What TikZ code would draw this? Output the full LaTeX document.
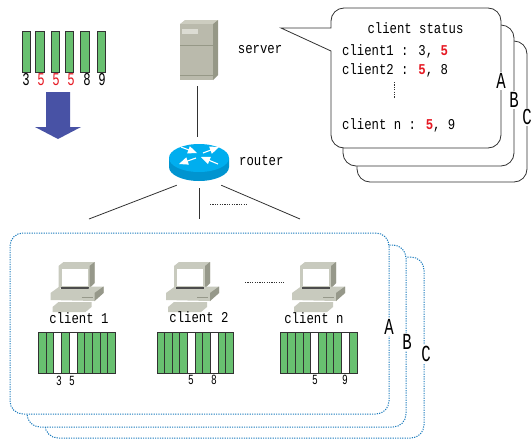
\documentclass[tikz,border=0pt]{standalone}
\usepackage{fontspec}
\setmainfont[FakeStretch=0.82]{Liberation Mono}
\newfontfamily\narrowfont[FakeStretch=0.68]{Liberation Mono}
\usetikzlibrary{arrows,positioning}
\definecolor{pktgreen}{RGB}{104,192,112}
\definecolor{arrowblue}{RGB}{72,82,165}
\definecolor{dotblue}{RGB}{30,125,190}
\definecolor{linegray}{RGB}{50,50,50}
\definecolor{srvfront}{RGB}{186,186,172}
\definecolor{srvtop}{RGB}{205,205,192}
\definecolor{srvside}{RGB}{150,152,135}
\definecolor{rtrtop}{RGB}{0,174,239}
\definecolor{rtrside}{RGB}{0,148,208}
\definecolor{pcbody}{RGB}{200,202,190}
\definecolor{pcdark}{RGB}{150,152,138}
\definecolor{alert}{RGB}{230,25,35}
\tikzstyle{txt} = [inner sep=0pt, font=\fontsize{15}{17}\selectfont]
\tikzstyle{digit} = [inner sep=0pt, font=\narrowfont\fontsize{14}{16}\selectfont]
\tikzstyle{bigdigit} = [inner sep=0pt, font=\narrowfont\fontsize{18}{20}\selectfont]
\tikzstyle{letter} = [fill=white, inner sep=1pt, font=\narrowfont\fontsize{23}{25}\selectfont]
\tikzstyle{pkt} = [draw=linegray, fill=pktgreen, line width=0.9pt, inner sep=0pt, minimum width=8.5pt, minimum height=41pt]
\tikzstyle{cell} = [draw=linegray, fill=pktgreen, line width=0.8pt, inner sep=0pt, minimum width=7.7pt, minimum height=41pt, anchor=north west]
\tikzstyle{link} = [draw=linegray, line width=0.8pt]
\tikzstyle{status} = [draw=linegray, fill=white, line width=0.8pt, rounded corners=13pt]
\tikzstyle{group} = [draw=dotblue, fill=white, line width=1pt, dash pattern=on 1.2pt off 1.2pt, rounded corners=13pt]
\tikzstyle{dots} = [draw=linegray, line width=0.8pt, dash pattern=on 1.2pt off 1.2pt]
\tikzset{
    pc/.pic={
        \fill[pcbody] (8,4) -- (13,0) -- (44,0) -- (44,21) -- (39,26) -- (8,26) -- cycle;
        \fill[pcdark] (39,4) -- (44,0) -- (44,21) -- (39,26) -- cycle;
        \fill[white] (11,7) rectangle (37,24);
        \fill[black!70] (10,25) rectangle (38,27);
        \fill[pcbody] (0,31) -- (9,24.5) -- (10,27) -- (38,27) -- (39,24.5) -- (53,24.5) -- (53,31) -- (44,39) -- (0,38) -- cycle;
        \fill[pcdark] (44,31) -- (53,24.5) -- (53,31) -- (44,39) -- cycle;
        \draw[pcdark, line width=0.8pt] (31,35) -- (42,35);
        \fill[pcbody] (2,45) -- (8,40) -- (41,40) -- (41,45) -- (35,50) -- (2,50) -- cycle;
    }
}

\begin{document}
\begin{tikzpicture}[x=1pt, y=-1pt]
        \useasboundingbox (0,0) rectangle (531,440);

        % packets
        \node[pkt] (p1) at (26.5,51.5) {};
        \node[pkt] (p2) at (40,51.5) {};
        \node[pkt] (p3) at (55.5,51.5) {};
        \node[pkt] (p4) at (69.5,51.5) {};
        \node[pkt] (p5) at (85,51.5) {};
        \node[pkt] (p6) at (101.5,51.5) {};
        \node[bigdigit] at (26,80) {3};
        \node[bigdigit, text=alert] at (41,80) {5};
        \node[bigdigit, text=alert] at (56,80) {5};
        \node[bigdigit, text=alert] at (71,80) {5};
        \node[bigdigit] at (87,80) {8};
        \node[bigdigit] at (102,80) {9};
        \fill[arrowblue] (46,92) -- (70,92) -- (70,127) -- (81,127) -- (58,139) -- (35,127) -- (46,127) -- cycle;

        % server
        \fill[srvtop] (180,24) -- (185,20) -- (218,20) -- (213,24) -- cycle;
        \fill[srvfront] (180,24) rectangle (213,80);
        \fill[srvside] (213,24) -- (218,20) -- (218,75) -- (213,80) -- cycle;
        \fill[srvtop!70!white] (182,29) rectangle (198,34);
        \draw[srvside] (180,45) -- (213,45);
        \draw[srvside] (180,75) -- (213,75);
        \node[minimum width=38pt, minimum height=66pt, inner sep=0pt] (server) at (197.5,53) {};
        \node[txt, right=21pt of server.east, yshift=3pt] (serverlbl) {server};

        % router
        \fill[rtrside] (169,158) -- (169,167) arc[x radius=30, y radius=-14, start angle=180, end angle=360] -- (229,158) -- cycle;
        \fill[rtrtop] (199,158) ellipse[x radius=30, y radius=14];
        \node[minimum width=44pt, minimum height=48pt, inner sep=0pt] (router) at (199,161) {};
        \begin{scope}[white, line width=1.1pt, >=triangle 45]
            \draw[->] (181,147) -- (197,153);
            \draw[->] (203,153) -- (219,147);
            \draw[->] (196,158) -- (179,164);
            \draw[->] (218,164) -- (201,157);
        \end{scope}
        \node[txt, anchor=west] (routerlbl) at (239,161) {router};
        \draw[link] (server.south) -- (server.south |- router.north);
        \coordinate (c1) at (89,219);
        \coordinate (c2) at (199,219);
        \coordinate (cn) at (300,219);
        \draw[link] (router.south west) -- (c1);
        \draw[link, shorten <=3pt] (router.south) -- (c2);
        \draw[link] (router.south east) -- (cn);
        \draw[dots] (210,204) -- (247,204);

        % client status
        \node[status, minimum width=170pt, minimum height=141pt] (stC) at (442,111.5) {};
        \node[status, minimum width=171pt, minimum height=141pt] (stB) at (428.5,95.5) {};
        \draw[status, sharp corners] (344,8) -- (488,8) .. controls (495.2,8) and (501,13.8) .. (501,21) -- (501,135) .. controls (501,142.2) and (495.2,148) .. (488,148) -- (344,148) .. controls (336.8,148) and (331,142.2) .. (331,135) -- (331,51) -- (281,28) -- (331,28) -- (331,21) .. controls (331,13.8) and (336.8,8) .. (344,8) -- cycle;
        \node[txt] (title) at (415.5,28) {client status};
        \node[txt, anchor=west] (st1) at (342,51) {client1 : 3, \textcolor{alert}{\textbf{5}}};
        \node[txt, anchor=west] (st2) at (342,70) {client2 : \textcolor{alert}{\textbf{5}}, 8};
        \node[txt, anchor=west] (stn) at (342,125) {client n : \textcolor{alert}{\textbf{5}}, 9};
        \draw[dots] (394,82) -- (394,98);
        \node[letter] (stA) at (501,81) {A};
        \node[letter] at (514,100) {B};
        \node[letter] at (527,117) {C};

        % clients
        \node[group, minimum width=379pt, minimum height=181pt] (grpC) at (234.5,347.5) {};
        \node[group, minimum width=379pt, minimum height=182pt] (grpB) at (216.5,336) {};
        \node[group, minimum width=379pt, minimum height=181pt] (grpA) at (199.5,323.5) {};
        \node[letter] at (389,327) {A};
        \node[letter] at (407,342) {B};
        \node[letter] at (426,354) {C};

        \pic (pc1) at (50.5,262) {pc};
        \pic (pc2) at (166,262) {pc};
        \pic (pcn) at (292,262) {pc};
        \node[txt] (cl1) at (79,318) {client 1};
        \node[txt] (cl2) at (199,317) {client 2};
        \node[txt] (cln) at (314,318) {client n};
        \draw[dots] (245,282) -- (284,282);

        \foreach \i in {0,...,9} {
            \node[cell] at (38+\i*7.7,332) {};
            \node[cell] at (156.5+\i*7.6,332) {};
            \node[cell] at (279.5+\i*7.7,332) {};
        }
        \node[cell, fill=white] at (53.4,332) {};
        \node[cell, fill=white] at (68.8,332) {};
        \node[cell, fill=white] at (187,332) {};
        \node[cell, fill=white] at (210,332) {};
        \node[cell, fill=white] at (310.3,332) {};
        \node[cell, fill=white] at (341,332) {};
        \node[digit] at (59,381) {3};
        \node[digit] at (72,381) {5};
        \node[digit] at (191,380) {5};
        \node[digit] at (214,380) {8};
        \node[digit] at (315,380) {5};
        \node[digit] at (345,380) {9};
    \end{tikzpicture}
\end{document}
